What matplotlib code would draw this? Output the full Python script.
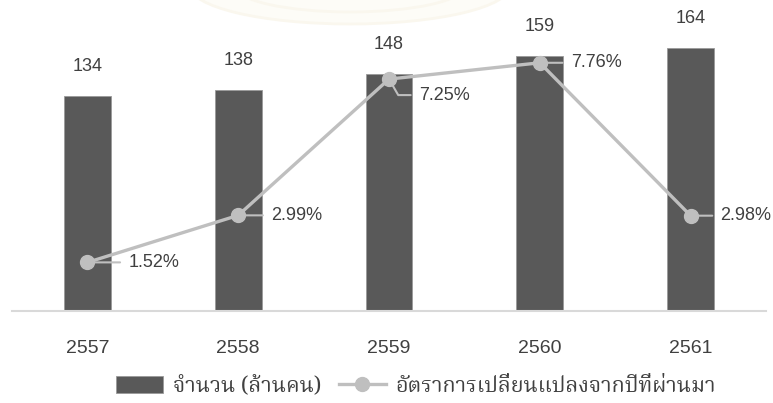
import matplotlib
matplotlib.use("Agg")
from matplotlib import pyplot as plt
from matplotlib import font_manager
from matplotlib.ft2font import FT2Font
from matplotlib.patches import Ellipse

years = ["2557", "2558", "2559", "2560", "2561"]
people = [134, 138, 148, 159, 164]
growth = [1.52, 2.99, 7.25, 7.76, 2.98]
bar_label = "จำนวน (ล้านคน)"
line_label = "อัตราการเปลี่ยนแปลงจากปีที่ผ่านมา"

BAR = "#595959"
LINE = "#BFBFBF"
TEXT = "#404040"


def find_thai_font():
    # pick any installed font that has Thai glyphs
    preferred = ["Noto Serif Thai", "Noto Sans Thai", "Norasi", "Loma", "Garuda", "Sarabun"]
    found = []
    for f in font_manager.fontManager.ttflist:
        try:
            ft = FT2Font(f.fname)
            if ft.get_char_index(ord("ก")) and ft.get_char_index(ord("ป")):
                found.append(f.name)
        except Exception:
            pass
    for p in preferred:
        if p in found:
            return p
    return found[0] if found else "DejaVu Sans"


thai = find_thai_font()
plt.rcParams["font.family"] = ["Liberation Sans", "DejaVu Sans"]

fig = plt.figure(figsize=(7.73, 4.03), dpi=100)

# faint watermark behind the chart top
fig.patches.append(Ellipse((350 / 773, 1 + 14 / 403), 320 / 773, 76 / 403,
                           transform=fig.transFigure, facecolor="#FDFCF7",
                           edgecolor="#FAF7EE", lw=2, zorder=0))
fig.patches.append(Ellipse((350 / 773, 1 + 14 / 403), 230 / 773, 52 / 403,
                           transform=fig.transFigure, facecolor="none",
                           edgecolor="#FAF7EE", lw=2, zorder=0))

ax = fig.add_axes([12 / 773, 1 - 311 / 403, 754 / 773, 301 / 403])
ax2 = ax.twinx()
ax.patch.set_visible(False)
ax2.patch.set_visible(False)

x = list(range(len(years)))
bars = ax.bar(x, people, width=0.31, color=BAR, edgecolor="#9A9A9A", linewidth=0.6,
              label=bar_label, zorder=2)
ax.set_xlim(-0.5, 4.5)
ax.set_ylim(0, 188)
ax2.set_ylim(0, 9.41)

for xi, v in zip(x, people):
    ax.annotate(str(v), (xi, v), xytext=(0, 21), textcoords="offset pixels",
                ha="center", va="bottom", fontsize=13, color=TEXT)

(ln,) = ax2.plot(x, growth, color=LINE, lw=2.4, marker="o", markersize=10,
                 label=line_label, zorder=3)

offsets = [(41, 0), (33, 0), (30, -16), (31, 0), (30, 0)]
for xi, v, off in zip(x, growth, offsets):
    style = "arc3" if off[1] == 0 else "angle,angleA=0,angleB=-60"
    ax2.annotate(f"{v:.2f}%", (xi, v), xytext=off, textcoords="offset pixels",
                 ha="left", va="center", fontsize=13, color=TEXT,
                 arrowprops=dict(arrowstyle="-", color=LINE, lw=1.5,
                                 shrinkA=4, shrinkB=0, connectionstyle=style))

for a in (ax, ax2):
    for s in ("top", "left", "right", "bottom"):
        a.spines[s].set_visible(False)
    a.set_yticks([])
ax.spines["bottom"].set_visible(True)
ax.spines["bottom"].set_color("#D9D9D9")
ax.spines["bottom"].set_linewidth(1.5)

ax.set_xticks(x)
ax.set_xticklabels(years, fontsize=14, color=TEXT)
ax.tick_params(axis="x", length=0, pad=21)

leg = fig.legend([bars, ln], [bar_label, line_label], loc="center left",
                 bbox_to_anchor=(116 / 773, 1 - 386 / 403), ncol=2, frameon=False,
                 prop={"family": [thai, "Liberation Serif", "DejaVu Sans"], "size": 15.5},
                 handlelength=2.2, handleheight=0.8, columnspacing=0.8,
                 handletextpad=0.45, borderpad=0, borderaxespad=0, labelcolor=TEXT)

fig.savefig("out.png", dpi=100)
